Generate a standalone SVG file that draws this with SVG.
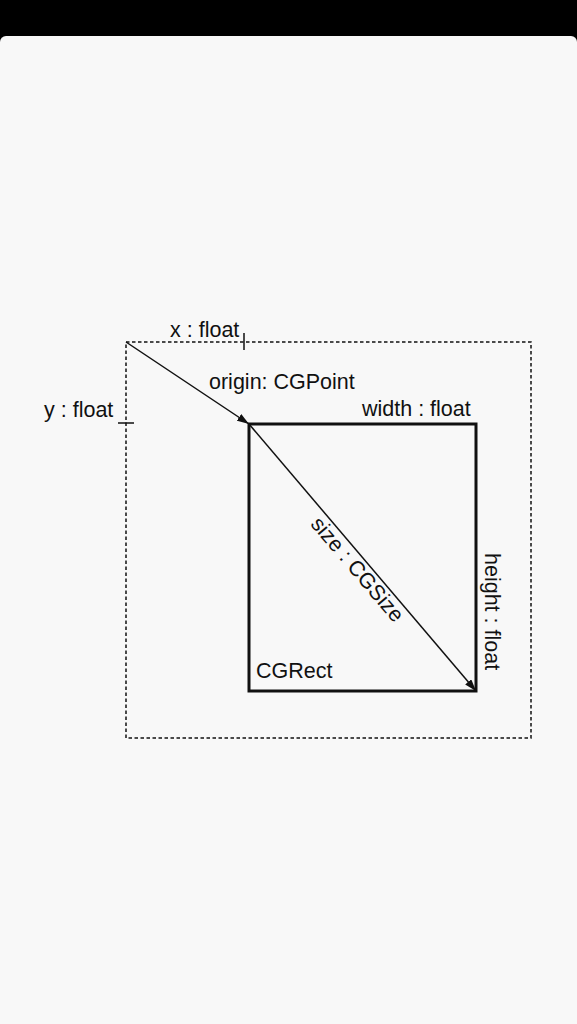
<svg xmlns="http://www.w3.org/2000/svg" width="577" height="1024" viewBox="0 0 577 1024">
<style>
text{font-family:"Liberation Sans",Arial,sans-serif;font-size:21.5px;fill:#111}
.dot{fill:none;stroke:#111;stroke-width:1.5;stroke-dasharray:3.5 2.5}
.thin{fill:none;stroke:#111;stroke-width:1.5}
</style>
<defs>
<marker id="ah" viewBox="0 0 12 8" refX="12" refY="4" markerWidth="12" markerHeight="8" markerUnits="userSpaceOnUse" orient="auto">
<path d="M0,0 L12,4 L0,8 Z" fill="#111"/>
</marker>
</defs>
<rect x="0" y="0" width="577" height="1024" fill="#000"/>
<rect x="0" y="36" width="577" height="1000" rx="6" fill="#f8f8f8"/>
<g id="bounds">
<rect class="dot" x="126" y="342" width="405" height="396"/>
<line class="thin" x1="244" y1="333" x2="244" y2="350"/>
<line class="thin" x1="118" y1="423" x2="134" y2="423"/>
<text x="170" y="337">x : float</text>
<text x="44" y="417">y : float</text>
</g>
<g id="cgrect">
<rect x="249" y="424" width="227" height="267" fill="none" stroke="#111" stroke-width="3"/>
<text x="256" y="678">CGRect</text>
<text x="362" y="416">width : float</text>
<text transform="translate(485,553) rotate(90)">height : float</text>
</g>
<g id="connectors">
<line class="thin" x1="126" y1="342" x2="249" y2="424" marker-end="url(#ah)"/>
<line class="thin" x1="249" y1="424" x2="476" y2="691" marker-end="url(#ah)"/>
<text x="209" y="389">origin: CGPoint</text>
<text text-anchor="middle" transform="translate(352,574) rotate(49.6)">size : CGSize</text>
</g>
</svg>
